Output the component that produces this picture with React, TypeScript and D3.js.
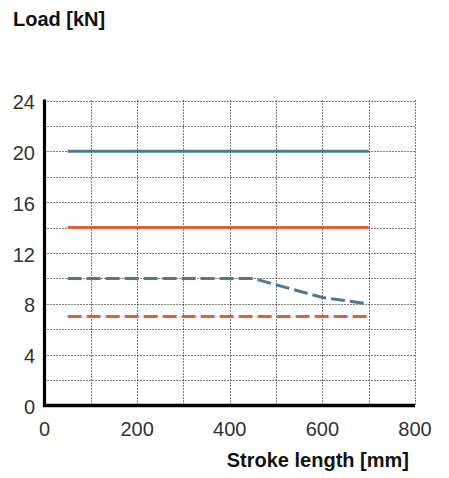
import React from "react";
import * as d3 from "d3";

const xTicks = [0, 200, 400, 600, 800];
const yTicks = [0, 4, 8, 12, 16, 20, 24];
const xGrid = [100, 200, 300, 400, 500, 600, 700, 800];
const yGrid = [2, 4, 6, 8, 10, 12, 14, 16, 18, 20, 22, 24];

const blueSolidX = [50, 700];
const blueSolidY = [20, 20];
const orangeSolidX = [50, 700];
const orangeSolidY = [14, 14];
const blueDashedX = [50, 450, 600, 700];
const blueDashedY = [10, 10, 8.5, 8];
const orangeDashedX = [50, 700];
const orangeDashedY = [7, 7];

const BLUE = "#4a7b92";
const ORANGE = "#d9643a";
const FONT = "'Liberation Sans', Arial, Helvetica, sans-serif";

export default function App() {
  const W = 449, H = 478;
  const x = d3.scaleLinear().domain([0, 800]).range([44.5, 415]);
  const y = d3.scaleLinear().domain([0, 24]).range([405.5, 100.5]);
  const snap = (v: number) => Math.round(v) + 0.5;
  const line = d3.line<[number, number]>().x(d => x(d[0])).y(d => y(d[1]));
  const mk = (xs: number[], ys: number[]) => line(xs.map((v, i) => [v, ys[i]] as [number, number])) || "";

  const series = [
    { xs: blueSolidX, ys: blueSolidY, c: BLUE, dash: undefined },
    { xs: orangeSolidX, ys: orangeSolidY, c: ORANGE, dash: undefined },
    { xs: blueDashedX, ys: blueDashedY, c: BLUE, dash: "14 5" },
    { xs: orangeDashedX, ys: orangeDashedY, c: ORANGE, dash: "14 5" },
  ];

  return (
    <svg width={W} height={H} style={{ position: "absolute", left: 0, top: 0, background: "#fff" }} fontFamily={FONT}>
      {yGrid.map(v => (
        <line key={"hy" + v} x1={x(0)} x2={x(800)} y1={snap(y(v))} y2={snap(y(v))} stroke="#000" strokeWidth={1} strokeDasharray="1 2" />
      ))}
      {xGrid.map(v => (
        <line key={"vx" + v} x1={snap(x(v))} x2={snap(x(v))} y1={y(24)} y2={y(0)} stroke="#000" strokeWidth={1} strokeDasharray="1 2" />
      ))}
      {series.map((s, i) => (
        <path key={i} d={mk(s.xs, s.ys)} fill="none" stroke={s.c} strokeWidth={3} strokeDasharray={s.dash} />
      ))}
      <line x1={x(0)} x2={x(0)} y1={y(24) - 1} y2={y(0) + 1.5} stroke="#000" strokeWidth={3.2} />
      <line x1={x(0) - 1.5} x2={x(800)} y1={y(0)} y2={y(0)} stroke="#000" strokeWidth={3.4} />
      {yTicks.map(v => (
        <text key={"yt" + v} x={35} y={y(v) + 1.5} textAnchor="end" dominantBaseline="central" fontSize={20} fill="#333">{v}</text>
      ))}
      {xTicks.map(v => (
        <text key={"xt" + v} x={x(v)} y={436} textAnchor="middle" fontSize={20} fill="#333">{v}</text>
      ))}
      <text x={13} y={26} fontSize={20} fontWeight="bold" fill="#111">Load [kN]</text>
      <text x={409} y={467} textAnchor="end" fontSize={20} fontWeight="bold" fill="#111">Stroke length [mm]</text>
    </svg>
  );
}
